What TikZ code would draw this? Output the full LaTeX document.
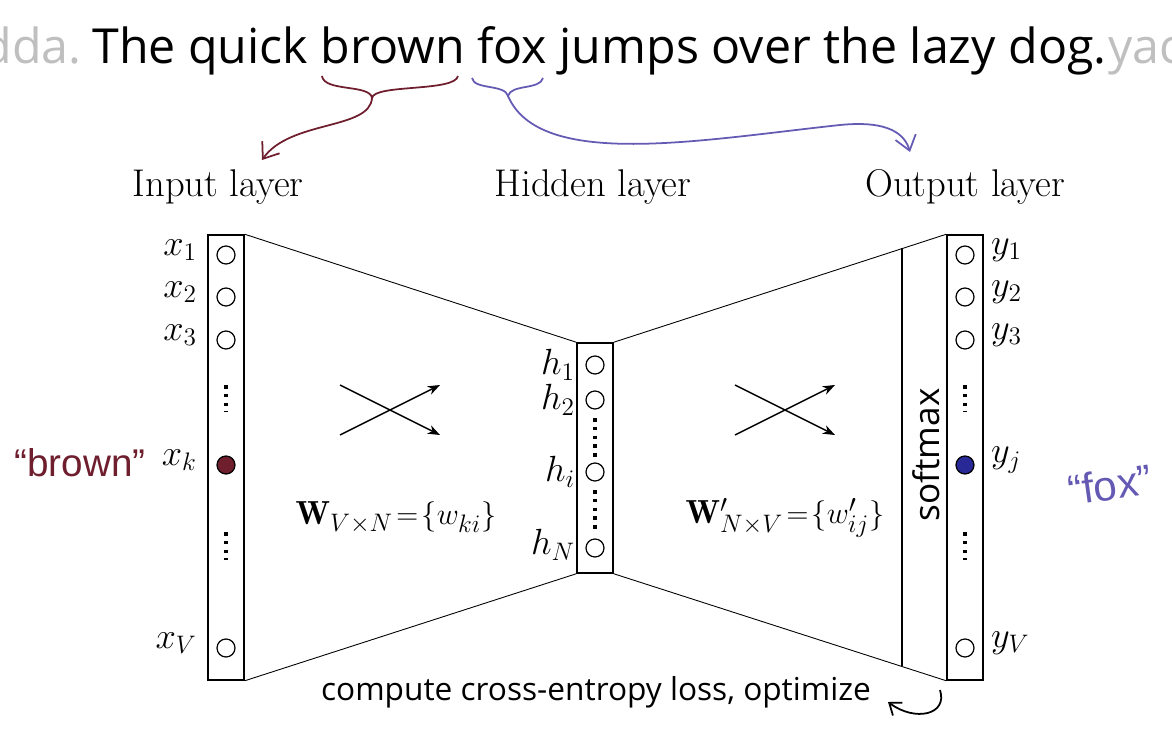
\documentclass[tikz,border=0pt]{standalone}
\usepackage{fontspec}
\newfontfamily\osans{Open Sans}
\newfontfamily\hand{Liberation Sans}
\usetikzlibrary{arrows.meta,decorations.pathreplacing}
\definecolor{maroon}{RGB}{110,30,45}
\definecolor{fblue}{RGB}{100,90,180}
\definecolor{dblue}{RGB}{40,40,150}
\begin{document}
\begin{tikzpicture}[x=0.02cm,y=-0.02cm,
  lay/.style={draw,line width=0.9pt,minimum width=0.72cm,inner sep=0},
  neu/.style={circle,draw,line width=0.7pt,minimum size=0.36cm,inner sep=0},
  lbl/.style={font=\fontsize{20}{20}\selectfont\itshape},
  ttl/.style={font=\fontsize{22}{22}\selectfont},
  vd/.style={line width=2pt,dash pattern=on 2pt off 3pt}]
\useasboundingbox (0,0) rectangle (1172,743);
% top sentence
\node[anchor=base west,inner sep=0,font=\osans\fontsize{27.5}{28}\selectfont] (sent) at (92,64) {The quick brown fox jumps over the lazy dog.};
\node[anchor=base east,inner sep=0,font=\osans\fontsize{27.5}{28}\selectfont,text=gray!50] (pre) at (82,64) {dda.};
\node[anchor=base west,inner sep=0,font=\osans\fontsize{27.5}{28}\selectfont,text=gray!50] (post) at (1108,64) {yac};
% braces
\draw[maroon,line width=1pt] (322,76) .. controls (324,92) and (370,84) .. (372,98) .. controls (374,84) and (455,92) .. (458,76);
\coordinate (bs) at (372,98); \coordinate (be) at (262,160);
\draw[maroon,line width=1pt,-{Straight Barb[length=8pt,width=12pt]}] (bs) .. controls (370,130) and (290,120) .. (be);
\draw[fblue,line width=1pt] (472,78) .. controls (474,90) and (505,84) .. (508,96) .. controls (511,84) and (540,90) .. (543,78);
\coordinate (fs) at (508,96); \coordinate (fe) at (910,152);
\draw[fblue,line width=1pt,-{Straight Barb[length=8pt,width=12pt]}] (fs) .. controls (540,170) and (700,140) .. (840,125) .. controls (890,120) and (905,135) .. (fe);
% titles
\node[ttl] (ti) at (218,187) {Input layer};
\node[ttl] (th) at (593,187) {Hidden layer};
\node[ttl] (to) at (965,187) {Output layer};
% layers
\node[lay,minimum height=8.9cm] (inp) at (226,457.5) {};
\node[lay,minimum height=4.6cm] (hid) at (595,458) {};
\node[lay,minimum height=8.9cm] (out) at (965,457.5) {};
\draw[line width=0.5pt] (inp.north east) -- (hid.north west);
\draw[line width=0.5pt] (inp.south east) -- (hid.south west);
\draw[line width=0.5pt] (hid.north east) -- (out.north west);
\draw[line width=0.5pt] (hid.south east) -- (out.south west);
% input neurons
\foreach \n/\y in {1/255,2/297,3/340,V/648}{
  \node[neu] (x\n) at (226,\y) {};
  \node[lbl,anchor=east] (lx\n) at (203,\y-5) {$x_{\n}$};}
\node[neu,fill=maroon] (xk) at (226,465) {};
\node[lbl,anchor=east] (lxk) at (203,460) {$x_k$};
\draw[vd] (226,385) -- (226,412);
\draw[vd] (226,532) -- (226,560);
% hidden
\foreach \n/\y in {1/365,2/400,i/472,N/548}{
  \node[neu] (h\n) at (595,\y) {};}
\foreach \n/\y in {1/365,2/400,i/472,N/545}{
  \node[lbl,anchor=east,inner sep=1pt] (lh\n) at (577,\y) {$h_{\n}$};}
\draw[vd] (595,418) -- (595,458);
\draw[vd] (595,490) -- (595,532);
% output
\foreach \n/\y in {1/255,2/297,3/340,V/648}{
  \node[neu] (y\n) at (965,\y) {};
  \node[lbl,anchor=west] (ly\n) at (985,\y-5) {$y_{\n}$};}
\node[neu,fill=dblue] (yj) at (965,465) {};
\node[lbl,anchor=west] (lyj) at (985,460) {$y_j$};
\draw[vd] (965,385) -- (965,412);
\draw[vd] (965,532) -- (965,560);
% softmax
\coordinate (s1) at (902,248); \coordinate (s2) at (902,666);
\draw[line width=0.8pt] (s1) -- (s2);
\node[rotate=90,font=\osans\fontsize{20}{20}\selectfont] (sm) at (926,455) {softmax};
% crossing arrows
\foreach \cx in {390,785}{
  \draw[-{Stealth[length=7pt]},line width=0.8pt] (\cx-50,435) -- (\cx+50,385);
  \draw[-{Stealth[length=7pt]},line width=0.8pt] (\cx-50,385) -- (\cx+50,435);}
\node[font=\fontsize{19}{19}\selectfont] (w1) at (396,518) {$\mathbf{W}_{V\times N}\!=\!\{w_{ki}\}$};
\node[font=\fontsize{19}{19}\selectfont] (w2) at (785,518) {$\mathbf{W}'_{N\times V}\!=\!\{w'_{ij}\}$};
% handwritten
\node[maroon,font=\hand\fontsize{22}{22}\selectfont] (hb) at (80,463) {\char"201C brown\char"201D};
\node[fblue,font=\hand\fontsize{24}{24}\selectfont,rotate=8] (hf) at (1110,485) {\char"201C fox\char"201D};
% bottom
\node[font=\osans\fontsize{18}{18}\selectfont] (cmp) at (596,692) {compute cross-entropy loss, optimize};
\coordinate (c1) at (940,690); \coordinate (c2) at (888,702);
\draw[line width=1pt,-{Straight Barb[length=6pt,width=9pt]}] (c1) .. controls (948,715) and (915,722) .. (c2);
\end{tikzpicture}
\end{document}
